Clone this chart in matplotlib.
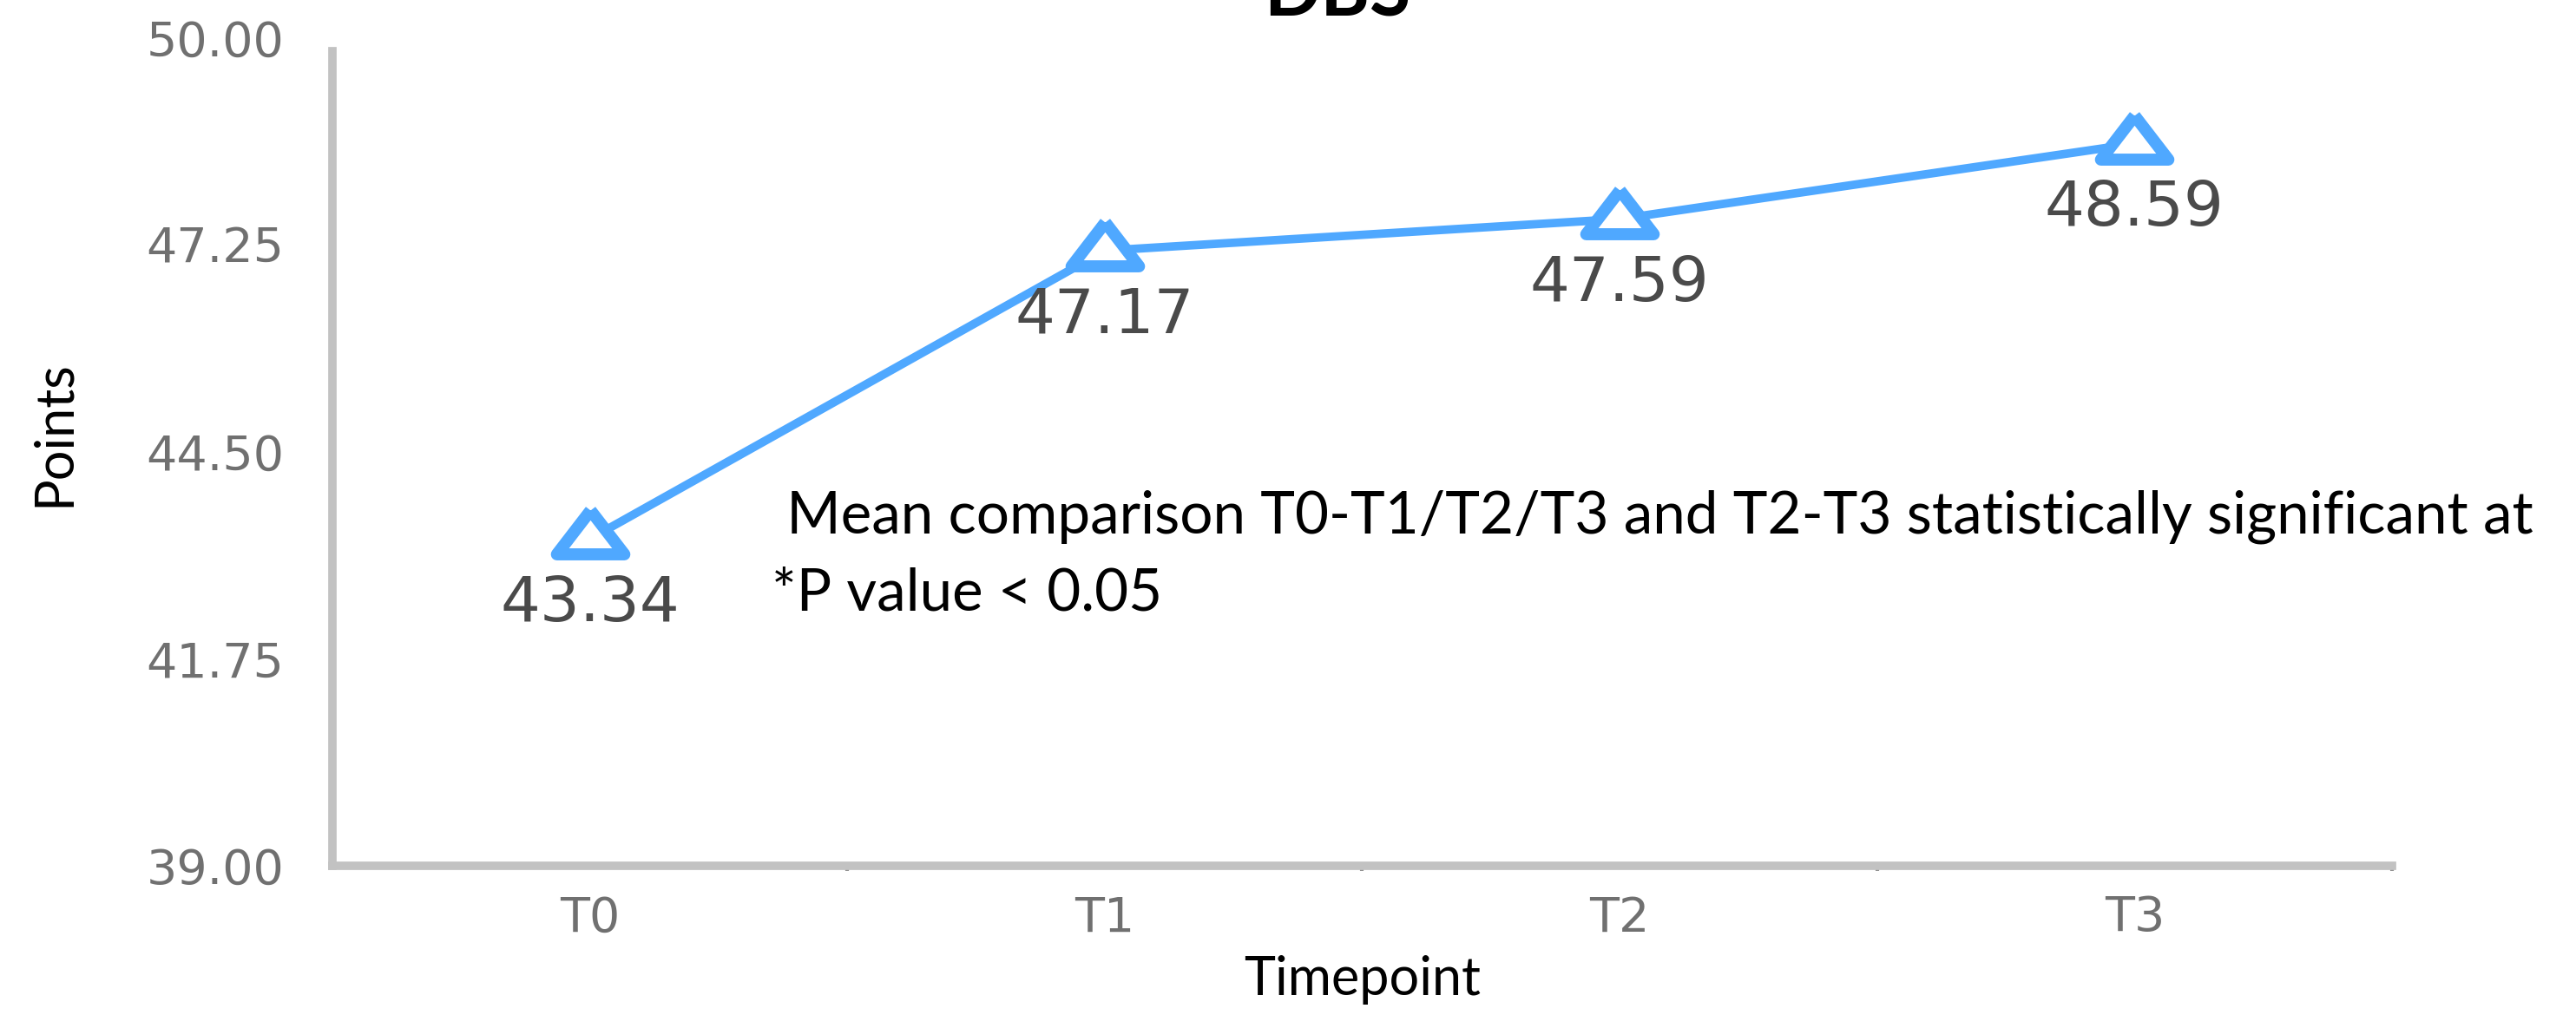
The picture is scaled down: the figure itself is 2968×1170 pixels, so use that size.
import matplotlib.pyplot as plt
from matplotlib.ticker import FixedLocator

# Données du graphique
timepoints = ["T0", "T1", "T2", "T3"]
points = [43.34, 47.17, 47.59, 48.59]
y_ticks = [39.00, 41.75, 44.50, 47.25, 50.00]

title = "DBS"
note_line1 = " Mean comparison T0-T1/T2/T3 and T2-T3 statistically significant at"
note_line2 = "*P value < 0.05"

blue = "#4fa8ff"
axis_grey = "#c2c2c2"

fig = plt.figure(figsize=(29.68, 11.70), dpi=100)
ax = fig.add_axes([0.1290, 0.147, 0.7996, 0.816])

x = list(range(len(timepoints)))

# Triangle aplati comme marqueur
tri = [(0, 0.85), (-1, -0.45), (1, -0.45), (0, 0.85)]
ax.plot(x, points, color=blue, lw=7, marker=tri, markersize=56,
        markerfacecolor="white", markeredgecolor=blue, markeredgewidth=10,
        zorder=3)

# Étiquettes de valeurs sous chaque point
for xi, v in zip(x, points):
    ax.annotate(f"{v:.2f}", (xi, v), xytext=(0, -54), textcoords="offset points",
                ha="center", va="center", fontsize=52, color="#4a4a4a",
                family="DejaVu Sans")

ax.set_xlim(-0.5, 3.5)
ax.set_ylim(39, 50)
ax.set_xticks(x)
ax.set_xticklabels(timepoints)
ax.set_yticks(y_ticks)
ax.set_yticklabels([f"{t:.2f}" for t in y_ticks])
ax.xaxis.set_minor_locator(FixedLocator([0.5, 1.5, 2.5, 3.5]))

ax.tick_params(axis="both", which="major", labelsize=40, labelcolor="#707070",
               length=0)
ax.tick_params(axis="y", which="major", pad=40)
ax.tick_params(axis="x", which="major", pad=24)
ax.tick_params(axis="x", which="minor", length=4, color="#909090", width=3)
for lbl in ax.get_xticklabels() + ax.get_yticklabels():
    lbl.set_family("DejaVu Sans")

for side in ["top", "right"]:
    ax.spines[side].set_visible(False)
for side in ["left", "bottom"]:
    ax.spines[side].set_color(axis_grey)
    ax.spines[side].set_linewidth(7)
ax.spines["left"].set_bounds(39, 49.82)

ax.set_ylabel("Points", fontsize=44, family="Lato")
ax.yaxis.set_label_coords(-0.123, 0.522)
ax.set_xlabel("Timepoint", fontsize=44, family="Lato")
ax.xaxis.set_label_coords(0.5, -0.108)

fig.text(0.519, 0.9846, title, ha="center", va="baseline", fontsize=62,
         fontweight="bold", family="Lato")
fig.text(0.2995, 0.4744, note_line1, ha="left", va="baseline", fontsize=48.5, family="Lato")
fig.text(0.2995, 0.3991, note_line2, ha="left", va="baseline", fontsize=48.5, family="Lato")

fig.savefig("out.png", dpi=100)
